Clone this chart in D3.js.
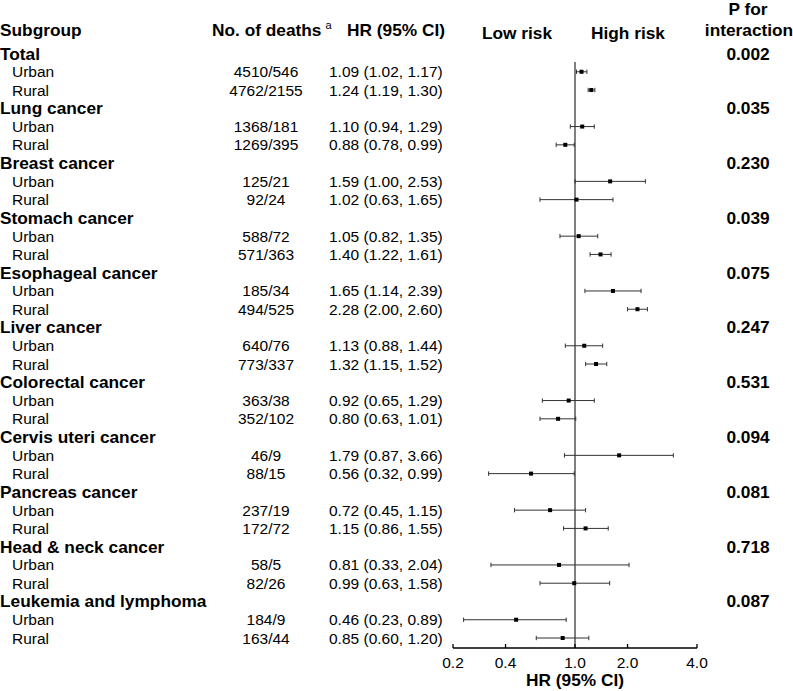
<!DOCTYPE html>
<html><head><meta charset="utf-8">
<script src="https://cdn.jsdelivr.net/npm/d3@7"></script>
<style>body{margin:0;background:#fff}svg{display:block}text{font-family:"Liberation Sans",Arial,sans-serif;fill:#000}</style>
</head><body>
<script>
const groups = ["Total","Lung cancer","Breast cancer","Stomach cancer","Esophageal cancer","Liver cancer","Colorectal cancer","Cervis uteri cancer","Pancreas cancer","Head & neck cancer","Leukemia and lymphoma"];
const pInteraction = ["0.002","0.035","0.230","0.039","0.075","0.247","0.531","0.094","0.081","0.718","0.087"];
const urbanDeaths = ["4510/546","1368/181","125/21","588/72","185/34","640/76","363/38","46/9","237/19","58/5","184/9"];
const ruralDeaths = ["4762/2155","1269/395","92/24","571/363","494/525","773/337","352/102","88/15","172/72","82/26","163/44"];
const urbanHR = [1.09,1.10,1.59,1.05,1.65,1.13,0.92,1.79,0.72,0.81,0.46];
const urbanLo = [1.02,0.94,1.00,0.82,1.14,0.88,0.65,0.87,0.45,0.33,0.23];
const urbanHi = [1.17,1.29,2.53,1.35,2.39,1.44,1.29,3.66,1.15,2.04,0.89];
const ruralHR = [1.24,0.88,1.02,1.40,2.28,1.32,0.80,0.56,1.15,0.99,0.85];
const ruralLo = [1.19,0.78,0.63,1.22,2.00,1.15,0.63,0.32,0.86,0.63,0.60];
const ruralHi = [1.30,0.99,1.65,1.61,2.60,1.52,1.01,0.99,1.55,1.58,1.20];
const axisTickValues = [0.2,0.4,1,2,5];
const axisTickLabels = ["0.2","0.4","1.0","2.0","4.0"];

const W = 793, H = 691;
const svg = d3.select("body").append("svg").attr("width",W).attr("height",H);

const rows = [];
groups.forEach((g,i)=>{
  rows.push({type:"group",label:g,p:pInteraction[i]});
  rows.push({type:"sub",label:"Urban",deaths:urbanDeaths[i],hr:urbanHR[i],lo:urbanLo[i],hi:urbanHi[i]});
  rows.push({type:"sub",label:"Rural",deaths:ruralDeaths[i],hr:ruralHR[i],lo:ruralLo[i],hi:ruralHi[i]});
});
const y = d3.scaleLinear().domain([0,rows.length-1]).range([53.5,638]);
const x = d3.scaleLog().domain([0.2,5]).range([453,697]);
const fmt = d3.format(".2f");
const NORM = "15.5px", BOLD = "17.3px";
const AXY = 648;

// headers
const hdr = svg.append("g").attr("font-weight","bold").style("font-size",BOLD);
hdr.append("text").attr("x",0).attr("y",30).attr("dominant-baseline","central").text("Subgroup");
const nd = hdr.append("text").attr("x",212).attr("y",30).attr("dominant-baseline","central").text("No. of deaths");
nd.append("tspan").attr("dx",4).attr("dy",-5).attr("font-weight","normal").style("font-size","11px").text("a");
hdr.append("text").attr("x",347).attr("y",30).attr("dominant-baseline","central").text("HR (95% CI)");
hdr.append("text").attr("x",517).attr("y",33).attr("text-anchor","middle").attr("dominant-baseline","central").text("Low risk");
hdr.append("text").attr("x",628).attr("y",33).attr("text-anchor","middle").attr("dominant-baseline","central").text("High risk");
hdr.append("text").attr("x",748).attr("y",9).attr("text-anchor","middle").attr("dominant-baseline","central").text("P for");
hdr.append("text").attr("x",749).attr("y",30).attr("text-anchor","middle").attr("dominant-baseline","central").text("interaction");

// reference line
svg.append("line").attr("x1",x(1)).attr("x2",x(1)).attr("y1",62).attr("y2",AXY)
  .attr("stroke","#7f7f7f").attr("stroke-width",2);

const rg = svg.selectAll("g.row").data(rows).join("g").attr("class","row")
  .attr("transform",(d,i)=>`translate(0,${y(i)})`);

rg.filter(d=>d.type==="group").each(function(d){
  const g = d3.select(this);
  g.append("text").attr("x",0).attr("dominant-baseline","central").attr("font-weight","bold").style("font-size",BOLD).text(d.label);
  g.append("text").attr("x",748).attr("text-anchor","middle").attr("dominant-baseline","central").attr("font-weight","bold").style("font-size",BOLD).text(d.p);
});
rg.filter(d=>d.type==="sub").each(function(d){
  const g = d3.select(this);
  g.append("text").attr("x",12).attr("dominant-baseline","central").style("font-size",NORM).text(d.label);
  g.append("text").attr("x",266).attr("text-anchor","middle").attr("dominant-baseline","central").style("font-size",NORM).text(d.deaths);
  g.append("text").attr("x",329).attr("dominant-baseline","central").style("font-size",NORM)
    .text(`${fmt(d.hr)} (${fmt(d.lo)}, ${fmt(d.hi)})`);
  g.append("line").attr("x1",x(d.lo)).attr("x2",x(d.hi)).attr("y1",0).attr("y2",0).attr("stroke","#333").attr("stroke-width",1);
  [d.lo,d.hi].forEach(v=>g.append("line").attr("x1",x(v)).attr("x2",x(v)).attr("y1",-2.2).attr("y2",2.2).attr("stroke","#333").attr("stroke-width",1));
  g.append("rect").attr("x",x(d.hr)-2).attr("y",-2).attr("width",4).attr("height",4).attr("fill","#000");
});

// axis (drawn from the log scale)
const ax = svg.append("g");
ax.append("line").attr("x1",x.range()[0]).attr("x2",x.range()[1]).attr("y1",AXY).attr("y2",AXY)
  .attr("stroke","#000").attr("stroke-width",1.3);
ax.selectAll("line.tk").data(axisTickValues).join("line").attr("class","tk")
  .attr("x1",d=>x(d)).attr("x2",d=>x(d)).attr("y1",AXY-4).attr("y2",AXY)
  .attr("stroke","#000").attr("stroke-width",1.3);
ax.selectAll("text.tl").data(axisTickValues).join("text").attr("class","tl")
  .attr("x",d=>x(d)).attr("y",AXY+14).attr("text-anchor","middle").attr("dominant-baseline","central")
  .style("font-size",NORM).text((d,i)=>axisTickLabels[i]);
svg.append("text").attr("x",x(1)).attr("y",680).attr("text-anchor","middle").attr("dominant-baseline","central")
  .attr("font-weight","bold").style("font-size",BOLD).text("HR (95% CI)");
</script>
</body></html>
